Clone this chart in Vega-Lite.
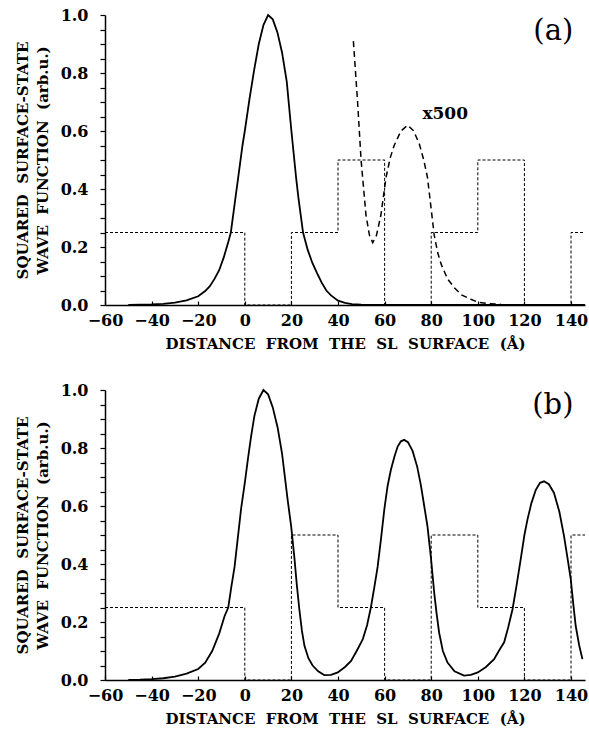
{
  "$schema": "https://vega.github.io/schema/vega-lite/v6.json",
  "background": "white",
  "padding": {"top": 7, "left": 15, "right": 3, "bottom": 3},
  "spacing": 31,
  "config": {
    "view": {"stroke": null},
    "axis": {
      "labelFont": "DejaVu Serif", "labelFontWeight": "bold", "labelFontSize": 16, "labelColor": "black", "labelOverlap": false, "labelFlush": false,
      "titleFont": "DejaVu Serif", "titleFontWeight": "bold", "titleFontSize": 15, "titleColor": "black",
      "domainColor": "black", "domainWidth": 1.5, "tickColor": "black", "tickWidth": 1.2, "grid": false
    }
  },
  "datasets": {
    "pot_a": [
      {"i": 0, "x": -60, "y": 0.25}, {"i": 1, "x": 0, "y": 0.25}, {"i": 2, "x": 0, "y": 0}, {"i": 3, "x": 20, "y": 0},
      {"i": 4, "x": 20, "y": 0.25}, {"i": 5, "x": 40, "y": 0.25}, {"i": 6, "x": 40, "y": 0.5}, {"i": 7, "x": 60, "y": 0.5},
      {"i": 8, "x": 60, "y": 0}, {"i": 9, "x": 80, "y": 0}, {"i": 10, "x": 80, "y": 0.25}, {"i": 11, "x": 100, "y": 0.25},
      {"i": 12, "x": 100, "y": 0.5}, {"i": 13, "x": 120, "y": 0.5}, {"i": 14, "x": 120, "y": 0}, {"i": 15, "x": 140, "y": 0},
      {"i": 16, "x": 140, "y": 0.25}, {"i": 17, "x": 146, "y": 0.25}
    ],
    "pot_b": [
      {"i": 0, "x": -60, "y": 0.25}, {"i": 1, "x": 0, "y": 0.25}, {"i": 2, "x": 0, "y": 0}, {"i": 3, "x": 20, "y": 0},
      {"i": 4, "x": 20, "y": 0.5}, {"i": 5, "x": 40, "y": 0.5}, {"i": 6, "x": 40, "y": 0.25}, {"i": 7, "x": 60, "y": 0.25},
      {"i": 8, "x": 60, "y": 0}, {"i": 9, "x": 80, "y": 0}, {"i": 10, "x": 80, "y": 0.5}, {"i": 11, "x": 100, "y": 0.5},
      {"i": 12, "x": 100, "y": 0.25}, {"i": 13, "x": 120, "y": 0.25}, {"i": 14, "x": 120, "y": 0}, {"i": 15, "x": 140, "y": 0},
      {"i": 16, "x": 140, "y": 0.5}, {"i": 17, "x": 146, "y": 0.5}
    ],
    "wf_a": [
      {"x": -50, "y": 0}, {"x": -45, "y": 0.001}, {"x": -40, "y": 0.002}, {"x": -35, "y": 0.004}, {"x": -30, "y": 0.008},
      {"x": -25, "y": 0.016}, {"x": -20, "y": 0.03}, {"x": -17, "y": 0.048}, {"x": -15, "y": 0.065}, {"x": -13, "y": 0.09},
      {"x": -11, "y": 0.12}, {"x": -9, "y": 0.165}, {"x": -7, "y": 0.22}, {"x": -6, "y": 0.25}, {"x": -5, "y": 0.31},
      {"x": -4, "y": 0.37}, {"x": -3, "y": 0.43}, {"x": -2, "y": 0.49}, {"x": -1, "y": 0.55}, {"x": 0, "y": 0.6},
      {"x": 2, "y": 0.71}, {"x": 4, "y": 0.81}, {"x": 6, "y": 0.9}, {"x": 8, "y": 0.965}, {"x": 10, "y": 1.0},
      {"x": 12, "y": 0.985}, {"x": 14, "y": 0.94}, {"x": 16, "y": 0.87}, {"x": 18, "y": 0.77}, {"x": 20, "y": 0.6},
      {"x": 22, "y": 0.44}, {"x": 23, "y": 0.37}, {"x": 25, "y": 0.25}, {"x": 27, "y": 0.19}, {"x": 29, "y": 0.145},
      {"x": 31, "y": 0.11}, {"x": 33, "y": 0.077}, {"x": 35, "y": 0.05}, {"x": 37, "y": 0.033}, {"x": 40, "y": 0.015},
      {"x": 43, "y": 0.007}, {"x": 46, "y": 0.003}, {"x": 50, "y": 0.001}, {"x": 55, "y": 0}, {"x": 146, "y": 0}
    ],
    "x500_a": [
      {"x": 46.6, "y": 0.91}, {"x": 48.4, "y": 0.7}, {"x": 49.9, "y": 0.5}, {"x": 52, "y": 0.31}, {"x": 53.5, "y": 0.24},
      {"x": 54.9, "y": 0.215}, {"x": 56.5, "y": 0.24}, {"x": 58.4, "y": 0.31}, {"x": 60.6, "y": 0.44}, {"x": 62.5, "y": 0.51},
      {"x": 64.1, "y": 0.55}, {"x": 67, "y": 0.6}, {"x": 69.9, "y": 0.62}, {"x": 72.5, "y": 0.6}, {"x": 74.9, "y": 0.555},
      {"x": 76.8, "y": 0.5}, {"x": 78.4, "y": 0.44}, {"x": 80, "y": 0.33}, {"x": 81.3, "y": 0.24}, {"x": 82.8, "y": 0.18},
      {"x": 84.3, "y": 0.14}, {"x": 87, "y": 0.09}, {"x": 89.9, "y": 0.06}, {"x": 93, "y": 0.035}, {"x": 97, "y": 0.02},
      {"x": 100, "y": 0.01}, {"x": 104, "y": 0.005}, {"x": 110, "y": 0.002}
    ],
    "wf_b": [
      {"x": -50, "y": 0}, {"x": -45, "y": 0.001}, {"x": -40, "y": 0.003}, {"x": -35, "y": 0.006}, {"x": -30, "y": 0.012},
      {"x": -25, "y": 0.022}, {"x": -20, "y": 0.038}, {"x": -17, "y": 0.06}, {"x": -14, "y": 0.1}, {"x": -11, "y": 0.16},
      {"x": -8.7, "y": 0.22}, {"x": -7.1, "y": 0.25}, {"x": -5.8, "y": 0.32}, {"x": -4.4, "y": 0.39}, {"x": -3, "y": 0.49},
      {"x": -1.6, "y": 0.59}, {"x": 0, "y": 0.68}, {"x": 1.3, "y": 0.76}, {"x": 2.7, "y": 0.84}, {"x": 4.1, "y": 0.91},
      {"x": 6, "y": 0.97}, {"x": 8, "y": 1.0}, {"x": 10, "y": 0.985}, {"x": 12, "y": 0.94}, {"x": 14.1, "y": 0.87},
      {"x": 16, "y": 0.78}, {"x": 18.4, "y": 0.62}, {"x": 19.9, "y": 0.53}, {"x": 21.3, "y": 0.42}, {"x": 22.3, "y": 0.33},
      {"x": 23.4, "y": 0.244}, {"x": 24.5, "y": 0.17}, {"x": 25.6, "y": 0.118}, {"x": 27.3, "y": 0.075}, {"x": 29.1, "y": 0.05},
      {"x": 31.5, "y": 0.03}, {"x": 34.1, "y": 0.017}, {"x": 37, "y": 0.018}, {"x": 39.9, "y": 0.026}, {"x": 43, "y": 0.045},
      {"x": 45.6, "y": 0.066}, {"x": 48, "y": 0.1}, {"x": 50.6, "y": 0.14}, {"x": 52.5, "y": 0.19}, {"x": 54.1, "y": 0.25},
      {"x": 55.6, "y": 0.32}, {"x": 57, "y": 0.39}, {"x": 58.5, "y": 0.49}, {"x": 59.9, "y": 0.59}, {"x": 61.3, "y": 0.67},
      {"x": 62.7, "y": 0.725}, {"x": 64.2, "y": 0.77}, {"x": 65.6, "y": 0.805}, {"x": 67, "y": 0.823}, {"x": 68.4, "y": 0.828},
      {"x": 70, "y": 0.82}, {"x": 72, "y": 0.79}, {"x": 74, "y": 0.735}, {"x": 75.6, "y": 0.67}, {"x": 77, "y": 0.6},
      {"x": 78.4, "y": 0.53}, {"x": 79.9, "y": 0.42}, {"x": 81.3, "y": 0.3}, {"x": 82.3, "y": 0.23}, {"x": 83.4, "y": 0.163},
      {"x": 85, "y": 0.1}, {"x": 87, "y": 0.06}, {"x": 90, "y": 0.03}, {"x": 94.1, "y": 0.015}, {"x": 97, "y": 0.018},
      {"x": 100, "y": 0.026}, {"x": 103.5, "y": 0.045}, {"x": 107, "y": 0.072}, {"x": 109, "y": 0.1}, {"x": 111.3, "y": 0.13},
      {"x": 113, "y": 0.18}, {"x": 114.9, "y": 0.244}, {"x": 116.7, "y": 0.33}, {"x": 118.4, "y": 0.416}, {"x": 120, "y": 0.5},
      {"x": 121.3, "y": 0.553}, {"x": 123, "y": 0.61}, {"x": 124.9, "y": 0.656}, {"x": 126.7, "y": 0.68}, {"x": 128.4, "y": 0.685},
      {"x": 130.5, "y": 0.675}, {"x": 132.7, "y": 0.645}, {"x": 135, "y": 0.58}, {"x": 137, "y": 0.496}, {"x": 138.5, "y": 0.42},
      {"x": 139.9, "y": 0.347}, {"x": 141, "y": 0.26}, {"x": 142, "y": 0.187}, {"x": 143.5, "y": 0.12}, {"x": 144.9, "y": 0.072}
    ],
    "tag_a": [{"x": 132.4, "y": 0.945, "label": "(a)"}],
    "tag_b": [{"x": 132.2, "y": 0.948, "label": "(b)"}],
    "note_a": [{"x": 86, "y": 0.66, "label": "x500"}]
  },
  "vconcat": [
    {
      "width": 480,
      "height": 290,
      "encoding": {
        "x": {"field": "x", "type": "quantitative", "scale": {"domain": [-60, 146], "nice": false},
          "axis": {"values": [-60, -40, -20, 0, 20, 40, 60, 80, 100, 120, 140], "tickSize": -4, "labelPadding": 11, "titlePadding": 8,
            "title": "DISTANCE\u00a0\u00a0FROM\u00a0\u00a0THE\u00a0\u00a0SL\u00a0\u00a0SURFACE\u00a0\u00a0(Å)"}},
        "y": {"field": "y", "type": "quantitative", "scale": {"domain": [0, 1], "nice": false},
          "axis": {"values": [0, 0.05, 0.1, 0.15, 0.2, 0.25, 0.3, 0.35, 0.4, 0.45, 0.5, 0.55, 0.6, 0.65, 0.7, 0.75, 0.8, 0.85, 0.9, 0.95, 1.0],
            "labelExpr": "abs(datum.value*5 - round(datum.value*5)) < 0.001 ? format(datum.value, '.1f') : ''",
            "tickSize": 5, "labelPadding": 12, "titlePadding": 10, "titleLineHeight": 20,
            "title": ["SQUARED\u00a0\u00a0SURFACE-STATE", "WAVE\u00a0\u00a0FUNCTION\u00a0\u00a0(arb.u.)"]}}
      },
      "layer": [
        {"data": {"name": "pot_a"}, "mark": {"type": "line", "color": "black", "strokeWidth": 1, "strokeDash": [3, 2]},
          "encoding": {"order": {"field": "i", "type": "quantitative"}}},
        {"data": {"name": "wf_a"}, "mark": {"type": "line", "color": "black", "strokeWidth": 1.8}, "encoding": {}},
        {"data": {"name": "x500_a"}, "mark": {"type": "line", "color": "black", "strokeWidth": 1.5, "strokeDash": [6, 4]}, "encoding": {}},
        {"data": {"name": "tag_a"}, "mark": {"type": "text", "font": "DejaVu Serif", "fontSize": 29, "color": "black", "align": "center", "baseline": "middle"},
          "encoding": {"text": {"field": "label"}}},
        {"data": {"name": "note_a"}, "mark": {"type": "text", "font": "DejaVu Serif", "fontWeight": "bold", "fontSize": 17, "color": "black", "align": "center", "baseline": "middle"},
          "encoding": {"text": {"field": "label"}}}
      ]
    },
    {
      "width": 480,
      "height": 290,
      "encoding": {
        "x": {"field": "x", "type": "quantitative", "scale": {"domain": [-60, 146], "nice": false},
          "axis": {"values": [-60, -40, -20, 0, 20, 40, 60, 80, 100, 120, 140], "tickSize": -4, "labelPadding": 11, "titlePadding": 8,
            "title": "DISTANCE\u00a0\u00a0FROM\u00a0\u00a0THE\u00a0\u00a0SL\u00a0\u00a0SURFACE\u00a0\u00a0(Å)"}},
        "y": {"field": "y", "type": "quantitative", "scale": {"domain": [0, 1], "nice": false},
          "axis": {"values": [0, 0.05, 0.1, 0.15, 0.2, 0.25, 0.3, 0.35, 0.4, 0.45, 0.5, 0.55, 0.6, 0.65, 0.7, 0.75, 0.8, 0.85, 0.9, 0.95, 1.0],
            "labelExpr": "abs(datum.value*5 - round(datum.value*5)) < 0.001 ? format(datum.value, '.1f') : ''",
            "tickSize": 5, "labelPadding": 12, "titlePadding": 10, "titleLineHeight": 20,
            "title": ["SQUARED\u00a0\u00a0SURFACE-STATE", "WAVE\u00a0\u00a0FUNCTION\u00a0\u00a0(arb.u.)"]}}
      },
      "layer": [
        {"data": {"name": "pot_b"}, "mark": {"type": "line", "color": "black", "strokeWidth": 1, "strokeDash": [3, 2]},
          "encoding": {"order": {"field": "i", "type": "quantitative"}}},
        {"data": {"name": "wf_b"}, "mark": {"type": "line", "color": "black", "strokeWidth": 1.8}, "encoding": {}},
        {"data": {"name": "tag_b"}, "mark": {"type": "text", "font": "DejaVu Serif", "fontSize": 29, "color": "black", "align": "center", "baseline": "middle"},
          "encoding": {"text": {"field": "label"}}}
      ]
    }
  ]
}
